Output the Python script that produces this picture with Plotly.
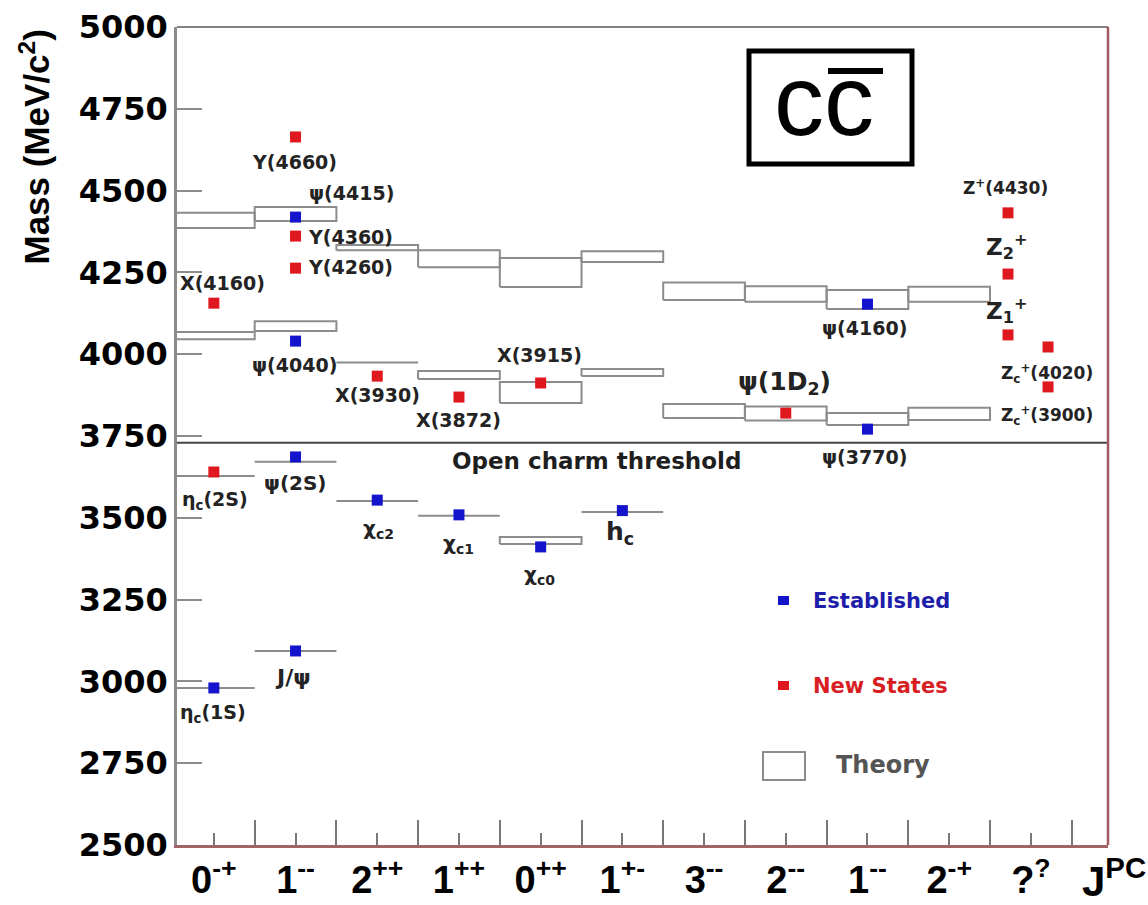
import plotly.graph_objects as go

# ---------------- data ----------------
categories = ["0<sup>-+</sup>", "1<sup>--</sup>", "2<sup>++</sup>", "1<sup>++</sup>", "0<sup>++</sup>",
              "1<sup>+-</sup>", "3<sup>--</sup>", "2<sup>--</sup>", "1<sup>--</sup>", "2<sup>-+</sup>",
              "?<sup>?</sup>"]

# established states (column index within J^PC axis, mass in MeV/c^2)
est_col = [0, 1, 1, 1, 1, 2, 3, 4, 5, 8, 8]
est_mass = [2980, 3093, 3686, 4040, 4419, 3554, 3509, 3411, 3522, 3771, 4153]

# new states
new_col = [0, 0, 1, 1, 1, 2, 3, 4, 7, 9.72, 9.72, 9.72, 10.21, 10.21]
new_mass = [3640, 4156, 4263, 4361, 4664, 3933, 3869, 3912, 3820, 4059, 4245, 4432, 3900, 4022]

# theory predictions (column, low mass, high mass)
theory_col = [0, 0, 0, 0,
              1, 1, 1, 1,
              2, 2, 2,
              3, 3, 3,
              4, 4, 4,
              5, 5, 5,
              6, 6,
              7, 7,
              8, 8,
              9, 9]
theory_low = [4386, 4046, 3628, 2980,
              4407, 4071, 3671, 3093,
              4318, 3975, 3551,
              4266, 3924, 3506,
              4205, 3851, 3420,
              4282, 3933, 3518,
              4166, 3805,
              4160, 3797,
              4138, 3784,
              4160, 3799]
theory_high = [4432, 4068, 3628, 2980,
               4450, 4101, 3671, 3093,
               4334, 3975, 3551,
               4318, 3949, 3506,
               4294, 3915, 3441,
               4315, 3955, 3518,
               4219, 3848,
               4208, 3840,
               4196, 3820,
               4206, 3836]

open_charm_threshold = 3729

# state labels: text, x (J^PC axis units), mass position, font size
labels = [
    ("Y(4660)", 1.49, 4587, 19),
    ("ψ(4415)", 2.18, 4493, 19),
    ("Y(4360)", 2.17, 4358, 19),
    ("Y(4260)", 2.17, 4267, 19),
    ("X(4160)", 0.61, 4218, 19),
    ("ψ(4040)", 1.49, 3967, 19),
    ("X(3930)", 2.50, 3875, 19),
    ("X(3872)", 3.49, 3799, 19),
    ("X(3915)", 4.49, 3998, 19),
    ("ψ(1D<sub>2</sub>)", 7.48, 3912, 25),
    ("ψ(4160)", 8.46, 4080, 19),
    ("ψ(3770)", 8.46, 3686, 19),
    ("Z<sup>+</sup>(4430)", 10.19, 4511, 17),
    ("Z<sub>2</sub><sup>+</sup>", 10.20, 4328, 23),
    ("Z<sub>1</sub><sup>+</sup>", 10.20, 4135, 23),
    ("Z<sub>c</sub><sup>+</sup>(4020)", 10.70, 3940, 17),
    ("Z<sub>c</sub><sup>+</sup>(3900)", 10.70, 3814, 17),
    ("η<sub>c</sub>(2S)", 0.51, 3554, 19),
    ("ψ(2S)", 1.49, 3606, 20),
    ("χ<sub>c2</sub>", 2.51, 3466, 20),
    ("χ<sub>c1</sub>", 3.49, 3420, 20),
    ("χ<sub>c0</sub>", 4.48, 3325, 20),
    ("h<sub>c</sub>", 5.47, 3453, 25),
    ("J/ψ", 1.47, 3013, 22),
    ("η<sub>c</sub>(1S)", 0.49, 2903, 19),
]

# ---------------- geometry helpers ----------------
W, H = 1148, 905
PL, PR, PT, PB = 177, 1108, 27, 845


def px(x):
    return (x - PL) / (PR - PL)


def py(y):
    return (PB - y) / (PB - PT)


BLUE = "rgb(20,20,205)"
RED = "rgb(222,24,30)"
BOXC = "rgb(140,140,140)"
FONT = "DejaVu Sans"
ARIAL = "Liberation Sans, Arial, sans-serif"

fig = go.Figure()

# theory boxes
bx, by = [], []
for c, lo, hi in zip(theory_col, theory_low, theory_high):
    bx += [c, c + 1, c + 1, c, c, None]
    by += [lo, lo, hi, hi, lo, None]
fig.add_trace(go.Scatter(x=bx, y=by, mode="lines", line=dict(color=BOXC, width=2),
                         hoverinfo="skip", showlegend=False))

# markers
fig.add_trace(go.Scatter(x=[c + 0.5 for c in est_col], y=est_mass, mode="markers",
                         marker=dict(symbol="square", size=11, color=BLUE),
                         name="Established", showlegend=False))
fig.add_trace(go.Scatter(x=[c + 0.5 for c in new_col], y=new_mass, mode="markers",
                         marker=dict(symbol="square", size=11, color=RED),
                         name="New States", showlegend=False))

shapes = []
# open charm threshold
shapes.append(dict(type="line", xref="paper", yref="y", x0=0, x1=1,
                   y0=open_charm_threshold, y1=open_charm_threshold,
                   line=dict(color="rgb(70,70,70)", width=2)))
# frame top and right
shapes.append(dict(type="line", xref="paper", yref="paper", x0=0, x1=1, y0=1, y1=1,
                   line=dict(color="rgb(130,130,130)", width=2)))
shapes.append(dict(type="line", xref="paper", yref="paper", x0=1, x1=1, y0=0, y1=1,
                   line=dict(color="rgb(160,90,95)", width=2.5)))
# title box
shapes.append(dict(type="rect", xref="paper", yref="paper", x0=px(749), x1=px(912),
                   y0=py(164), y1=py(51), line=dict(color="black", width=5)))
shapes.append(dict(type="line", xref="paper", yref="paper", x0=px(828), x1=px(883),
                   y0=py(71), y1=py(71), line=dict(color="black", width=6)))
# legend symbols
shapes.append(dict(type="rect", xref="paper", yref="paper", x0=px(778), x1=px(789),
                   y0=py(605), y1=py(596), line=dict(width=0), fillcolor=BLUE))
shapes.append(dict(type="rect", xref="paper", yref="paper", x0=px(778), x1=px(789),
                   y0=py(690), y1=py(681), line=dict(width=0), fillcolor=RED))
shapes.append(dict(type="rect", xref="paper", yref="paper", x0=px(763), x1=px(805),
                   y0=py(780), y1=py(752), line=dict(color=BOXC, width=2)))

annotations = []
for text, x, y, size in labels:
    annotations.append(dict(text=text, x=x, y=y, xref="x", yref="y", showarrow=False,
                            xanchor="center", yanchor="middle",
                            font=dict(family=FONT, size=size, color="rgb(35,35,35)", weight="bold")))

annotations.append(dict(text="Open charm threshold", x=px(596), y=py(461), xref="paper", yref="paper",
                        showarrow=False, xanchor="center", yanchor="middle",
                        font=dict(family=FONT, size=23, color="rgb(30,30,30)", weight="bold")))
# legend texts
annotations.append(dict(text="Established", x=px(811), y=py(601), xref="paper", yref="paper",
                        showarrow=False, xanchor="left", yanchor="middle",
                        font=dict(family=FONT, size=21, color="rgb(30,30,170)", weight="bold")))
annotations.append(dict(text="New States", x=px(811), y=py(686), xref="paper", yref="paper",
                        showarrow=False, xanchor="left", yanchor="middle",
                        font=dict(family=FONT, size=21, color="rgb(215,30,35)", weight="bold")))
annotations.append(dict(text="Theory", x=px(834), y=py(765), xref="paper", yref="paper",
                        showarrow=False, xanchor="left", yanchor="middle",
                        font=dict(family=FONT, size=24, color="rgb(85,85,85)", weight="bold")))
# title
annotations.append(dict(text="cc", x=px(824), y=py(100), xref="paper", yref="paper",
                        showarrow=False, xanchor="center", yanchor="middle",
                        font=dict(family=ARIAL, size=100, color="black")))
# y axis title
annotations.append(dict(text="Mass (MeV/c<sup>2</sup>)", x=px(34), y=py(28), xref="paper", yref="paper",
                        showarrow=False, xanchor="center", yanchor="top", textangle=-90,
                        font=dict(family=ARIAL, size=35, color="black", weight="bold")))
# J^PC label
annotations.append(dict(text="J<sup>PC</sup>", x=px(1114), y=py(878), xref="paper", yref="paper",
                        showarrow=False, xanchor="center", yanchor="middle",
                        font=dict(family=ARIAL, size=42, color="black", weight="bold")))

fig.update_layout(
    width=W, height=H, autosize=False,
    margin=dict(l=PL, r=W - PR, t=PT, b=H - PB, pad=0, autoexpand=False),
    paper_bgcolor="white", plot_bgcolor="white",
    shapes=shapes, annotations=annotations,
    showlegend=False,
    xaxis=dict(range=[0.049, 11.444], showgrid=False, zeroline=False, automargin=False,
               tickmode="array", tickvals=[i + 0.5 for i in range(len(categories))],
               ticktext=categories, ticks="inside", ticklen=12, tickwidth=2,
               tickcolor="rgb(120,120,120)",
               minor=dict(tickmode="linear", tick0=0, dtick=1, ticks="inside", ticklen=25,
                          tickwidth=2, tickcolor="rgb(120,120,120)", showgrid=False),
               showline=True, linecolor="rgb(160,100,105)", linewidth=2.5,
               tickfont=dict(family=ARIAL, size=38, color="black", weight="bold")),
    yaxis=dict(range=[2500, 5000], showgrid=False, zeroline=False, automargin=False,
               tickmode="array", tickvals=list(range(2500, 5001, 250)),
               ticks="inside", ticklen=25, tickwidth=2, tickcolor="rgb(140,140,140)",
               showline=True, linecolor="rgb(140,140,140)", linewidth=2.5,
               tickfont=dict(family=FONT, size=32, color="black", weight="bold")),
)

fig.write_html("out.html")
